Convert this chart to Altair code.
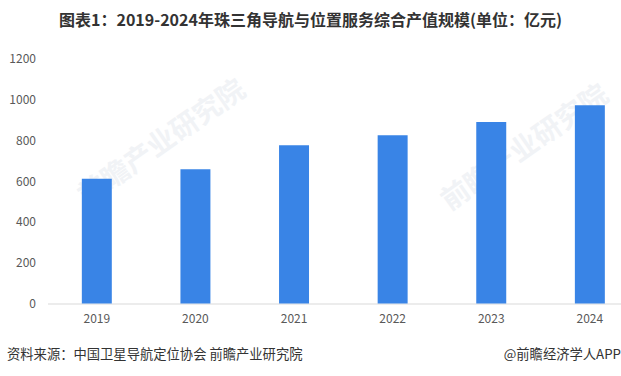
import altair as alt
import pandas as pd

years = ["2019", "2020", "2021", "2022", "2023", "2024"]
values = [611, 657, 775, 824, 889, 971]
y_ticks = [0, 200, 400, 600, 800, 1000, 1200]

title_text = "图表1：2019-2024年珠三角导航与位置服务综合产值规模(单位：亿元)"
source_text = "资料来源：中国卫星导航定位协会 前瞻产业研究院"
brand_text = "@前瞻经济学人APP"
watermark_text = "前瞻产业研究院"

df = pd.DataFrame({"year": years, "value": values})

FONT = "Noto Sans CJK SC"
W, H = 573.5, 245
PL, PT = 47.5, 58.5

bars = alt.Chart(df).mark_bar(color="#3984E6").encode(
    x=alt.X(
        "year:N",
        sort=years,
        scale=alt.Scale(paddingInner=0.696, paddingOuter=0.256, align=0.68),
        axis=alt.Axis(
            title=None, labelAngle=0, ticks=False, domainColor="#d9d9d9",
            labelColor="#595959", labelFontSize=12, labelFont=FONT,
            labelPadding=10, grid=False,
        ),
    ),
    y=alt.Y(
        "value:Q",
        scale=alt.Scale(domain=[0, 1200], nice=False),
        axis=alt.Axis(
            title=None, values=y_ticks, ticks=False, domain=False, grid=False,
            format="d",
            labelColor="#595959", labelFontSize=12, labelFont=FONT,
            labelPadding=12,
        ),
    ),
)

wm = pd.DataFrame({"t": [watermark_text, watermark_text]})
watermark1 = alt.Chart(wm.iloc[[0]]).mark_text(
    text=watermark_text, angle=325, fontSize=28, fontWeight="bold",
    color="#f1f3f6", font=FONT,
).encode(x=alt.value(115), y=alt.value(85))
watermark2 = alt.Chart(wm.iloc[[1]]).mark_text(
    text=watermark_text, angle=325, fontSize=28, fontWeight="bold",
    color="#f1f3f6", font=FONT,
).encode(x=alt.value(478), y=alt.value(90))

title = alt.Chart(pd.DataFrame({"t": [title_text]})).mark_text(
    fontSize=16, fontWeight="bold", color="#333333", font=FONT,
    align="center", baseline="middle",
).encode(text="t:N", x=alt.value(310.5 - PL), y=alt.value(21 - PT))

source = alt.Chart(pd.DataFrame({"t": [source_text]})).mark_text(
    fontSize=13.3, color="#333333", font=FONT, align="left", baseline="middle",
).encode(text="t:N", x=alt.value(7 - PL), y=alt.value(355 - PT))

brand = alt.Chart(pd.DataFrame({"t": [brand_text]})).mark_text(
    fontSize=13.3, color="#333333", font=FONT, align="right", baseline="middle",
).encode(text="t:N", x=alt.value(621 - PL), y=alt.value(355 - PT))

chart = alt.layer(watermark1, watermark2, bars, title, source, brand).properties(
    width=W, height=H,
    autosize=alt.AutoSizeParams(type="none"),
    padding={"left": PL, "top": PT, "right": 0, "bottom": 376 - PT - H},
    background="white",
).configure_view(stroke=None)

chart.save("out.html", embed_options={"renderer": "svg", "actions": False})
